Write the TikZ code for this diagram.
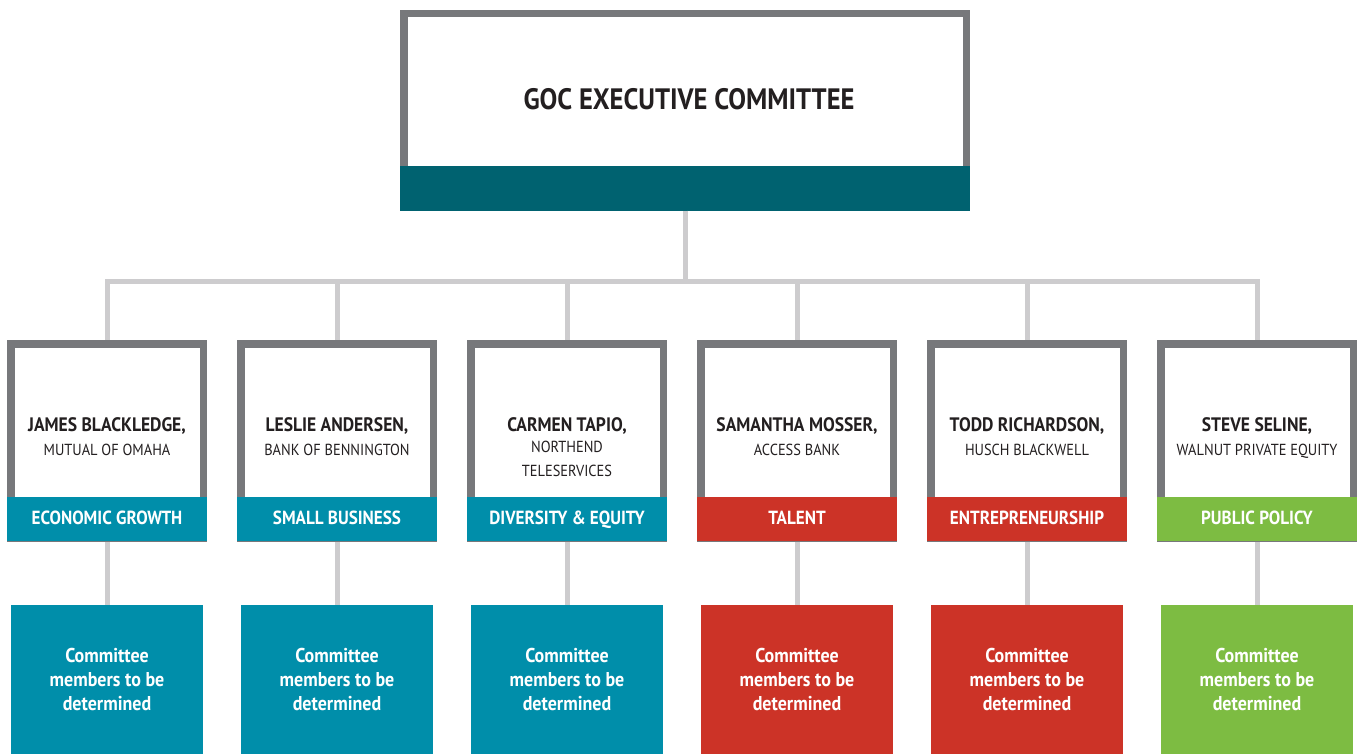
\documentclass[tikz,border=0pt]{standalone}
\usepackage{fontspec}
\setmainfont{PT Sans}[FakeStretch=0.9]
\definecolor{frameg}{HTML}{77787B}
\definecolor{linkg}{HTML}{CDCCCE}
\definecolor{darkteal}{HTML}{006270}
\definecolor{teal}{HTML}{008EAA}
\definecolor{redc}{HTML}{CC3327}
\definecolor{greenc}{HTML}{7DBC42}
\definecolor{txt}{HTML}{231F20}
\begin{document}
\begin{tikzpicture}[x=1pt,y=-1pt,
  framebox/.style={draw=frameg,line width=7.5pt,fill=white,minimum width=192.5pt,minimum height=194pt,inner sep=0pt},
  topframe/.style={draw=frameg,line width=7.5pt,fill=white,minimum width=562.5pt,minimum height=190pt,inner sep=0pt},
  band/.style={fill=#1,minimum width=200pt,minimum height=44pt,inner sep=0pt},
  bandtext/.style={anchor=base,text=white,inner sep=0pt,font=\bfseries\fontsize{19}{20}\selectfont},
  bottombox/.style={fill=#1,minimum width=192pt,minimum height=149pt,inner sep=0pt,text=white,align=center,font=\bfseries\fontsize{20}{24}\selectfont},
  namet/.style={text=txt,align=center,inner sep=0pt,anchor=base},
  link/.style={draw=linkg,line width=5pt}
]
\useasboundingbox (0,0) rectangle (1359,754);
% top box
\node[topframe] (topf) at (685,108.75) {};
\node[fill=darkteal,minimum width=570pt,minimum height=44.5pt,inner sep=0pt] (topband) at (685,188.25) {};
\node[namet,font=\bfseries\fontsize{29.5}{30}\selectfont] (toptxt) at (689,109.5) {GOC EXECUTIVE COMMITTEE};
\coordinate (bus) at (685,281);
\foreach \i/\x in {1/107,2/337,3/567,4/797,5/1027,6/1257}{
  \coordinate (mt\i) at (\x,340);
  \coordinate (mb\i) at (\x,541);
  \coordinate (bt\i) at (\x,605);
}
\draw[link] (topband.south) -- (bus);
\draw[link] (mt1) |- (bus) -| (mt6);
\foreach \i in {2,3,4,5}{ \draw[link] (mt\i) -- (mt\i |- bus); }
\foreach \i in {1,...,6}{ \draw[link] (mb\i) -- (bt\i); }
% member boxes
\foreach \i/\x/\c/\lab in {1/107/teal/ECONOMIC GROWTH,2/337/teal/SMALL BUSINESS,3/567/teal/DIVERSITY \& EQUITY,4/797/redc/TALENT,5/1027/redc/ENTREPRENEURSHIP,6/1257/greenc/PUBLIC POLICY}{
  \node[framebox] (f\i) at (\x,440.75) {};
  \node[band=\c] (b\i) at (\x,519) {};
  \node[bandtext] (l\i) at (\x,524) {\lab};
  \node[bottombox=\c] (c\i) at (\x,679.5) {Committee\\members to be\\determined};
}
\def\nf{\bfseries\fontsize{19.5}{24}\selectfont}
\def\cf{\fontsize{16}{24}\selectfont}
\node[namet] (n1) at (107,431) {\nf JAMES BLACKLEDGE,};
\node[namet] (o1) at (107,455) {\cf MUTUAL OF OMAHA};
\node[namet] (n2) at (337,431) {\nf LESLIE ANDERSEN,};
\node[namet] (o2) at (337,455) {\cf BANK OF BENNINGTON};
\node[namet] (n3) at (567,431) {\nf CARMEN TAPIO,};
\node[namet] (o3) at (567,452) {\cf NORTHEND};
\node[namet] (p3) at (567,476) {\cf TELESERVICES};
\node[namet] (n4) at (797,431) {\nf SAMANTHA MOSSER,};
\node[namet] (o4) at (797,455) {\cf ACCESS BANK};
\node[namet] (n5) at (1027,431) {\nf TODD RICHARDSON,};
\node[namet] (o5) at (1027,455) {\cf HUSCH BLACKWELL};
\node[namet] (n6) at (1257,431) {\nf STEVE SELINE,};
\node[namet] (o6) at (1257,455) {\cf WALNUT PRIVATE EQUITY};
\end{tikzpicture}
\end{document}
